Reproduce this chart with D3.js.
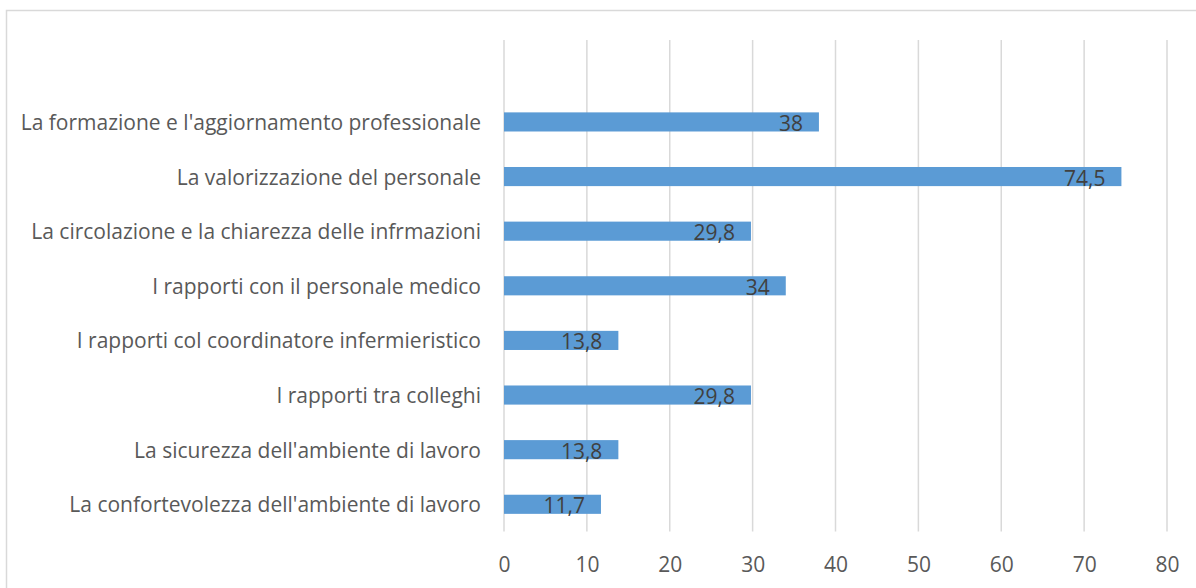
<!DOCTYPE html>
<html>
<head>
<meta charset="utf-8">
<script src="https://cdn.jsdelivr.net/npm/d3@7"></script>
<style>
  html, body { margin: 0; padding: 0; background: #fff; }
  svg { display: block; }
  text { font-family: "Open Sans", "Liberation Sans", sans-serif; }
</style>
</head>
<body>
<svg id="chart" width="1196" height="588"></svg>
<script>
// Categories, top to bottom; the first slot is an empty row of the source table
const categories = [
  "",
  "La formazione e l'aggiornamento professionale",
  "La valorizzazione del personale",
  "La circolazione e la chiarezza delle infrmazioni",
  "I rapporti con il personale medico",
  "I rapporti col coordinatore infermieristico",
  "I rapporti tra colleghi",
  "La sicurezza dell'ambiente di lavoro",
  "La confortevolezza dell'ambiente di lavoro"
];
const values = [null, 38, 74.5, 29.8, 34, 13.8, 29.8, 13.8, 11.7];
const xTicks = [0, 10, 20, 30, 40, 50, 60, 70, 80];

const svg = d3.select("#chart");
const W = 1196, H = 588;
const FONT = '"Open Sans", "Liberation Sans", sans-serif';

// Chart area border
svg.append("rect")
  .attr("x", 6.5).attr("y", 10.5)
  .attr("width", W).attr("height", H)
  .attr("fill", "none").attr("stroke", "#D9D9D9").attr("stroke-width", 1.5);

const plot = { left: 504, right: 1167, top: 40, bottom: 531.6 };

const x = d3.scaleLinear().domain([0, 80]).range([plot.left, plot.right]);
const y = d3.scaleBand().domain(d3.range(categories.length))
  .range([plot.top, plot.bottom]).paddingInner(0.65).paddingOuter(0.325);

// Vertical gridlines
svg.append("g").selectAll("line").data(xTicks).join("line")
  .attr("x1", d => x(d)).attr("x2", d => x(d))
  .attr("y1", plot.top).attr("y2", plot.bottom)
  .attr("stroke", "#D9D9D9").attr("stroke-width", 1.5);

// X axis tick labels
const xAxis = d3.axisBottom(x).tickValues(xTicks).tickSize(0).tickPadding(0);
const gx = svg.append("g").attr("transform", `translate(0,${plot.bottom})`).call(xAxis);
gx.select(".domain").remove();
gx.selectAll("text")
  .attr("dy", null).attr("y", 32).attr("dominant-baseline", "central")
  .attr("fill", "#595959").style("font-size", "21px")
  .style("font-family", FONT);

// Category labels
const yAxis = d3.axisLeft(y).tickFormat(i => categories[i]).tickSize(0).tickPadding(23);
const gy = svg.append("g").attr("transform", `translate(${plot.left},0)`).call(yAxis);
gy.select(".domain").remove();
gy.selectAll("text")
  .attr("dy", null).attr("dominant-baseline", "central")
  .attr("fill", "#595959").style("font-size", "21px")
  .style("font-family", FONT);

const rows = values.map((v, i) => ({ i, v })).filter(d => d.v !== null);

// Bars
svg.append("g").selectAll("rect").data(rows).join("rect")
  .attr("x", x(0)).attr("y", d => y(d.i))
  .attr("width", d => x(d.v) - x(0)).attr("height", y.bandwidth())
  .attr("fill", "#5B9BD5");

// Value labels, inside the end of each bar
const fmt = v => String(v).replace(".", ",");
svg.append("g").selectAll("text").data(rows).join("text")
  .attr("x", d => x(d.v) - 16).attr("y", d => y(d.i) + y.bandwidth() / 2 + 1)
  .attr("text-anchor", "end").attr("dominant-baseline", "central")
  .attr("fill", "#404040").style("font-size", "21px")
  .text(d => fmt(d.v));
</script>
</body>
</html>
